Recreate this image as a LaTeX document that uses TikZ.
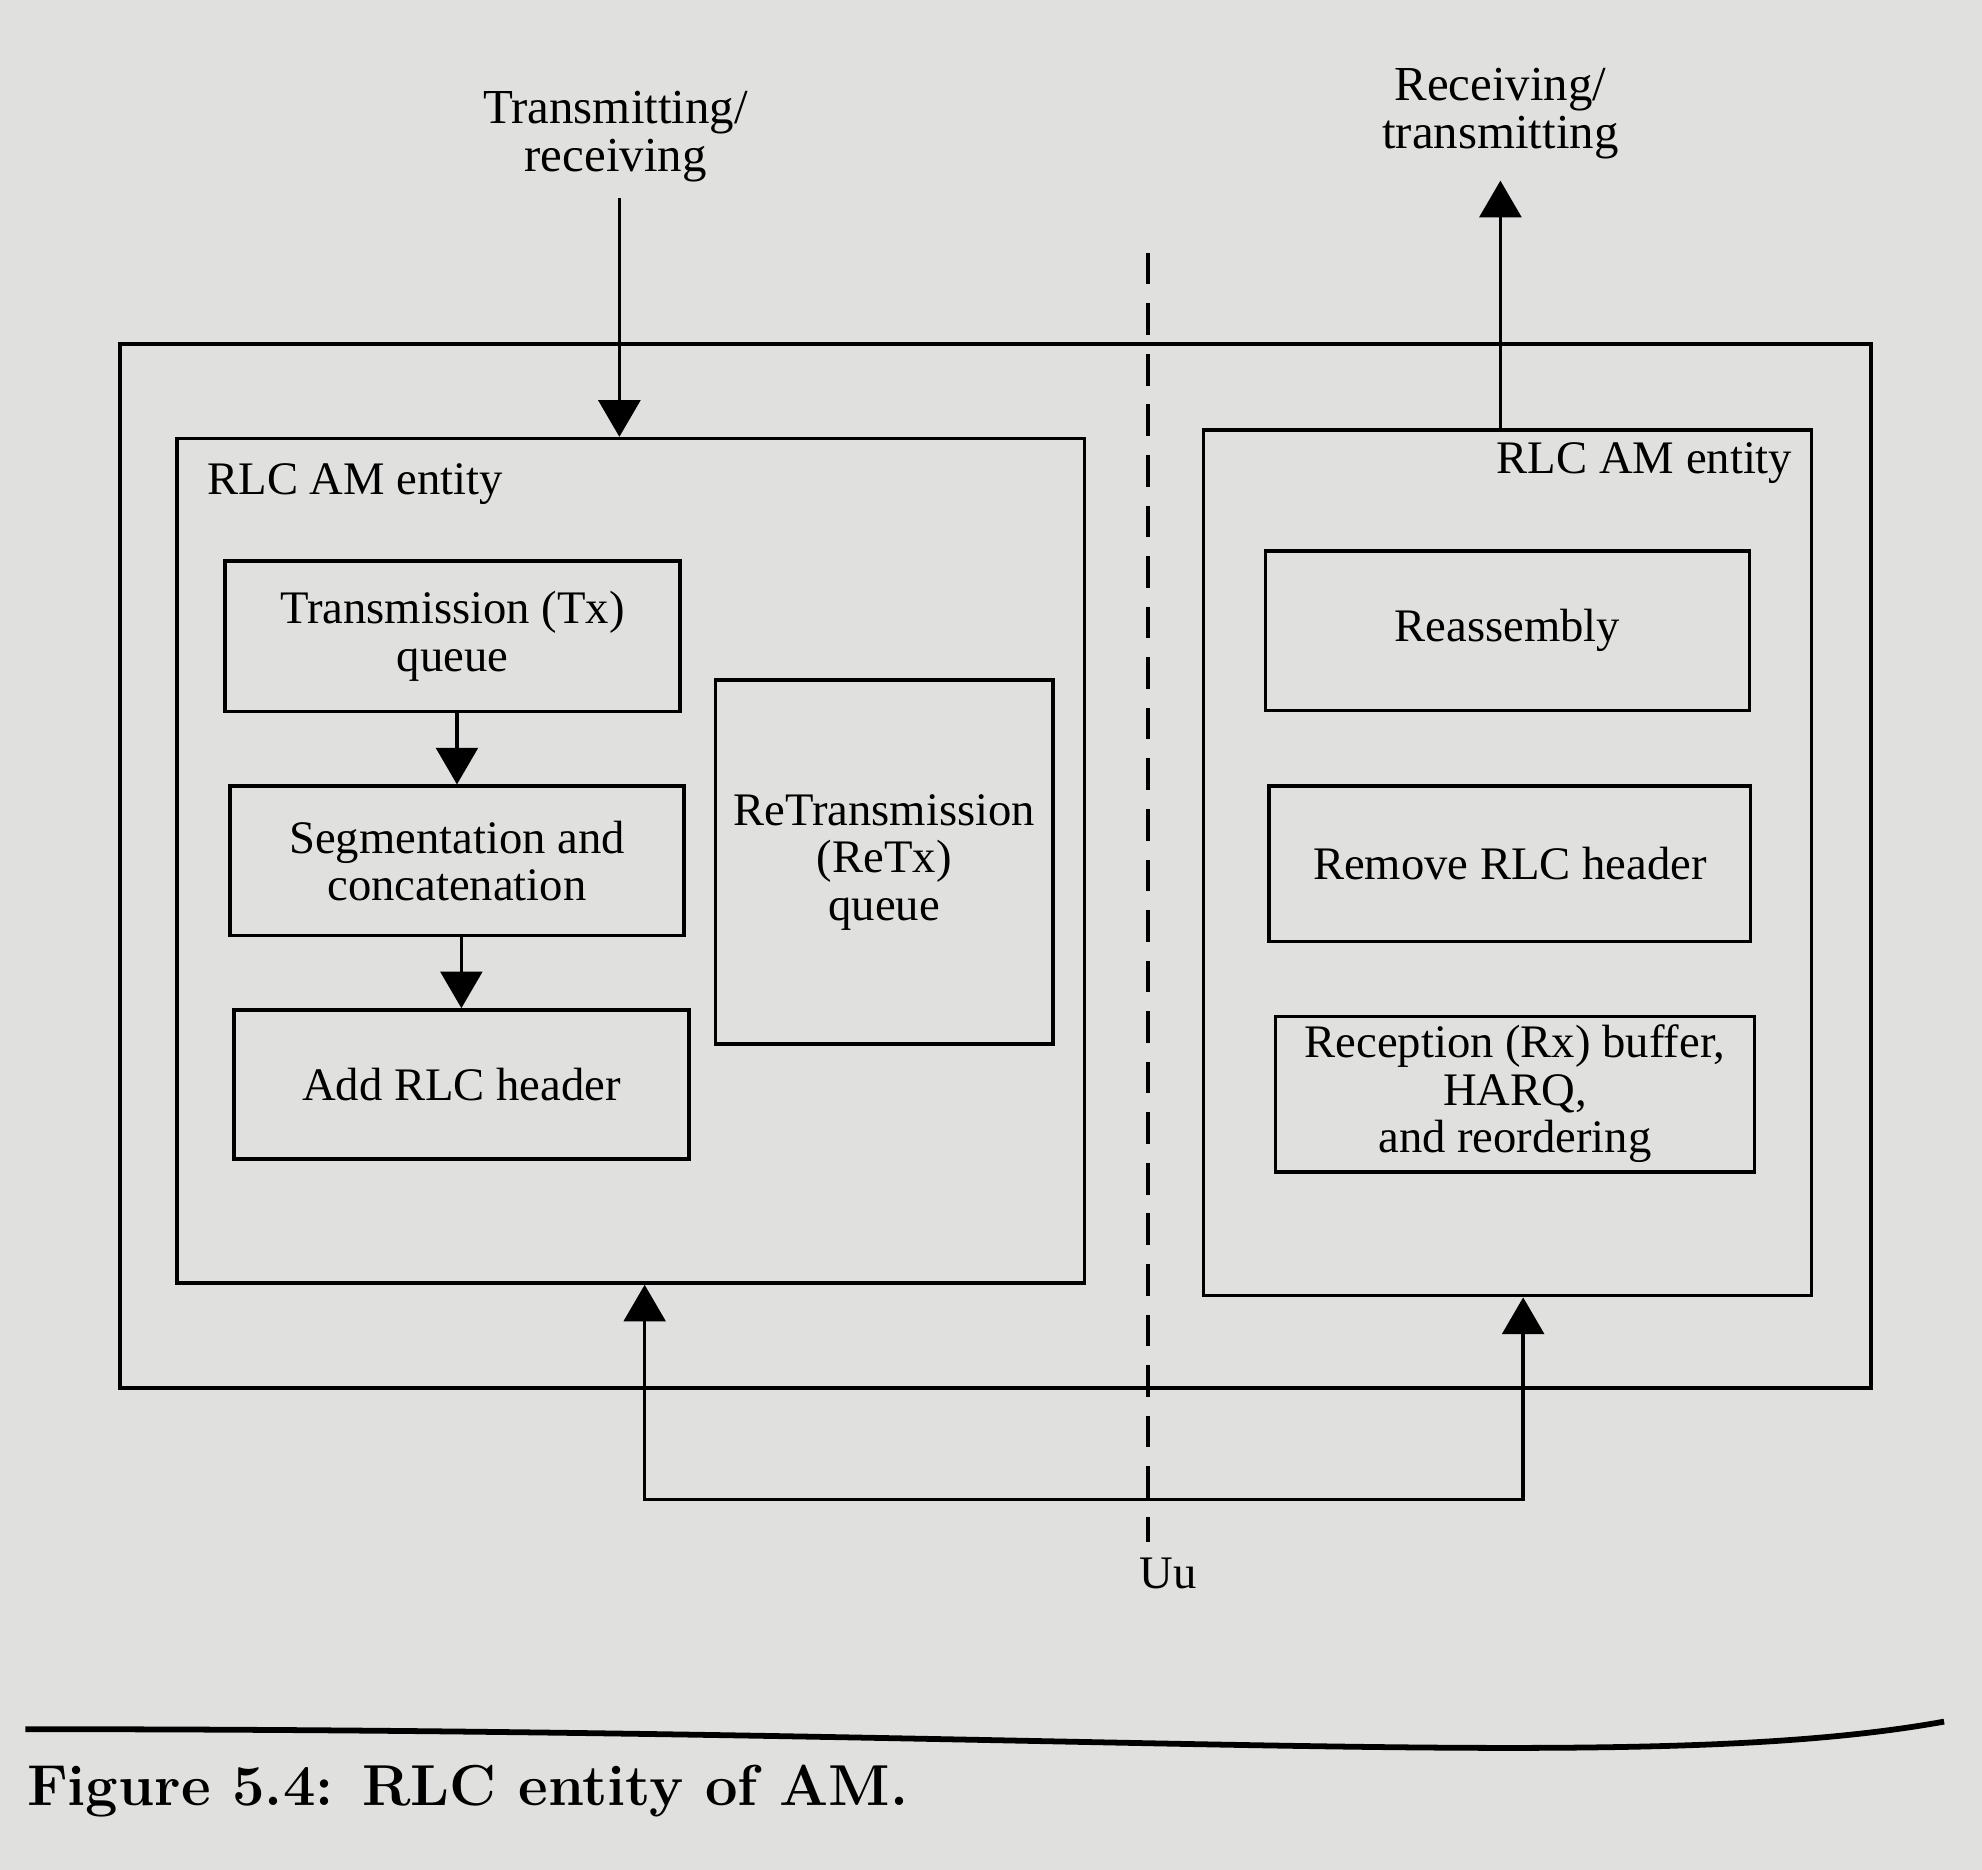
\documentclass[tikz,border=0pt]{standalone}
\usepackage{fontspec}
\newfontfamily\figfont{Liberation Serif}
\usetikzlibrary{arrows.meta}
\definecolor{paper}{RGB}{224,224,222}
\tikzset{
  blockbox/.style={draw, line width=0.8pt, align=center, inner sep=0pt},
  tri/.tip={Triangle[length=2.9mm,width=3.3mm]}
}
\begin{document}
\begin{tikzpicture}[x=0.1mm,y=-0.1mm,line width=0.8pt,
    font=\figfont\fontsize{10.5}{10.7}\selectfont]
  \fill[paper] (0,0) rectangle (1568,1479);
  \useasboundingbox (0,0) rectangle (1568,1479);

  \node[blockbox, minimum width=138.5mm, minimum height=82.6mm] (outer) at (787.5,685) {};

  \node[blockbox, minimum width=71.8mm, minimum height=66.8mm] (lent) at (499,681) {};
  \node[anchor=west] (ltitle) at (151,383) {RLC AM entity};
  \node[blockbox, minimum width=36mm, minimum height=11.9mm] (txq) at (358,503.5) {Transmission (Tx)\\queue};
  \node[blockbox, minimum width=35.9mm, minimum height=11.8mm] (seg) at (361.5,681) {Segmentation and\\concatenation};
  \node[blockbox, minimum width=36mm, minimum height=11.8mm] (addh) at (365,858) {Add RLC header};
  \node[blockbox, minimum width=26.7mm, minimum height=28.8mm] (retx) at (699.5,682) {ReTransmission\\(ReTx)\\queue};
  \draw[-tri] (txq.south -| seg.north) -- (seg.north);
  \draw[-tri] (seg.south -| addh.north) -- (addh.north);

  \node[blockbox, minimum width=48.1mm, minimum height=68.5mm] (rent) at (1192.5,682.5) {};
  \node[anchor=east] (rtitle) at (1431,366) {RLC AM entity};
  \node[blockbox, minimum width=38.3mm, minimum height=12.6mm] (reasm) at (1192.5,499) {Reassembly};
  \node[blockbox, minimum width=38.1mm, minimum height=12.3mm] (remh) at (1194.5,683.5) {Remove RLC header};
  \node[blockbox, minimum width=37.9mm, minimum height=12.3mm] (rxbuf) at (1198.5,865.5) {Reception (Rx) buffer,\\HARQ,\\and reordering};

  \node[align=center, font=\figfont\fontsize{11}{10.7}\selectfont] (tlabel) at (487,108) {Transmitting/\\receiving};
  \node[align=center, font=\figfont\fontsize{11}{10.7}\selectfont] (trlabel) at (1187,90) {Receiving/\\transmitting};
  \draw[-tri] ([xshift=0.3mm]tlabel.south) -- ([xshift=0.3mm]tlabel.south |- lent.north);
  \draw[-tri, shorten >=0.4mm] (trlabel.south |- rent.north) -- (trlabel.south);

  \coordinate (utop) at (908,200);
  \node (uu) at (924,1245) {Uu};
  \draw[dash pattern=on 2.5mm off 1.5mm] (utop) -- (utop |- uu.north);

  \draw[tri-tri] ([xshift=1.1mm]lent.south) -- ++(0,170) -| ([xshift=1.25mm]rent.south);

  \draw[line width=1.3pt] (20,1368) .. controls (900,1368) and (1300,1405) .. (1538,1362);
  \node[anchor=base west, inner sep=0pt, font=\rmfamily\bfseries\fontsize{13}{15}\selectfont] (caption) at (20,1428) {Figure 5.4: RLC entity of AM.};
\end{tikzpicture}
\end{document}
